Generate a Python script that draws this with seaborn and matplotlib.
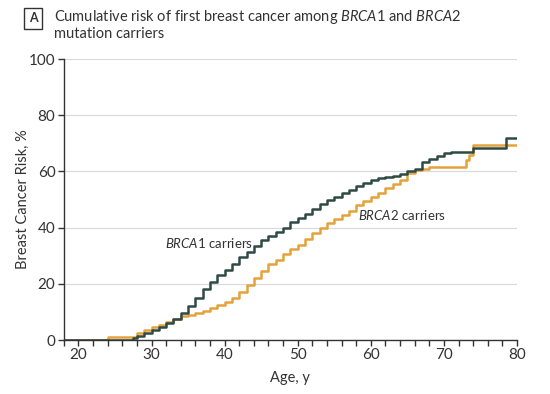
import pandas as pd
import matplotlib.pyplot as plt
import seaborn as sns
from matplotlib.ticker import MultipleLocator

# --- DATA ---
brca1_age = [18, 27, 27.5, 28, 29, 30, 31, 32, 33, 34, 35, 36, 37, 38, 39, 40,
             41, 42, 43, 44, 45, 46, 47, 48, 49, 50, 51, 52, 53, 54, 55, 56,
             57, 58, 59, 60, 61, 62, 63, 64, 65, 66, 67, 68, 69, 70, 71, 74,
             78.5, 80]
brca1_risk = [0, 0, 0.8, 1.5, 2.5, 3.5, 4.5, 6, 7.5, 9.5, 12, 15, 18, 20.5, 23, 25,
              27, 29.5, 31.5, 33.5, 35.5, 37, 38.5, 40, 42, 43.5, 45, 46.5, 48.5, 50, 51, 52.5,
              53.5, 55, 56, 57, 57.5, 58, 58.5, 59, 60, 61, 63.5, 64.5, 65.5, 66.5, 67, 68.5,
              72, 72]

brca2_age = [18, 24, 27, 28, 29, 30, 31, 32, 33, 34, 35, 36, 37, 38, 39, 40,
             41, 42, 43, 44, 45, 46, 47, 48, 49, 50, 51, 52, 53, 54, 55, 56,
             57, 58, 59, 60, 61, 62, 63, 64, 65, 66, 67, 68, 73, 73.5, 74, 80]
brca2_risk = [0, 1, 1, 2.5, 3.5, 4.5, 5.5, 6.5, 7.5, 8.5, 9, 9.5, 10.5, 11.5, 12.5, 13.5,
              15, 17, 19.5, 22, 24.5, 27, 28.5, 30.5, 32.5, 34, 36, 38, 40, 41.5, 43, 44.5,
              46, 48, 49.5, 51, 52.5, 54, 55.5, 57, 59.5, 60.5, 61, 61.5, 64, 66, 69.5, 69.5]

DARK = "#2e4a45"
ORANGE = "#e4a23a"
TXT = "#333333"

sns.set_style("white")
plt.rcParams["font.family"] = ["Lato", "DejaVu Sans"]
plt.rcParams["mathtext.fontset"] = "custom"
plt.rcParams["mathtext.it"] = "Lato:italic"
plt.rcParams["mathtext.rm"] = "Lato"

df1 = pd.DataFrame({"age": brca1_age, "risk": brca1_risk})
df2 = pd.DataFrame({"age": brca2_age, "risk": brca2_risk})

fig = plt.figure(figsize=(5.5, 3.94), dpi=100)
ax = fig.add_axes([0.116, 0.137, 0.824, 0.713])

ax.grid(axis="y", color="#d9d9d9", linewidth=0.8)
ax.set_axisbelow(True)

sns.lineplot(data=df2, x="age", y="risk", ax=ax, color=ORANGE, linewidth=1.8,
             drawstyle="steps-post", estimator=None, sort=False)
sns.lineplot(data=df1, x="age", y="risk", ax=ax, color=DARK, linewidth=1.8,
             drawstyle="steps-post", estimator=None, sort=False)

ax.set_xlim(18, 80)
ax.set_ylim(0, 100)
ax.xaxis.set_major_locator(MultipleLocator(10))
ax.xaxis.set_minor_locator(MultipleLocator(2))
ax.yaxis.set_major_locator(MultipleLocator(20))

for s in ["top", "right"]:
    ax.spines[s].set_visible(False)
for s in ["left", "bottom"]:
    ax.spines[s].set_color(TXT)
    ax.spines[s].set_linewidth(1.0)

ax.tick_params(axis="both", which="both", direction="out", length=4, width=1,
               color=TXT, labelcolor=TXT, labelsize=11, pad=2, bottom=True, left=True)
ax.tick_params(axis="x", which="minor", length=4)

ax.set_xlabel("Age, y", fontsize=10.5, color=TXT, labelpad=6)
ax.set_ylabel("Breast Cancer Risk, %", fontsize=10.5, color=TXT)
ax.yaxis.set_label_coords(-0.075, 0.5)

ax.text(31.8, 34.5, r"$\mathit{BRCA1}$ carriers", fontsize=9.5, color=TXT, va="center")
ax.text(58.3, 44.5, r"$\mathit{BRCA2}$ carriers", fontsize=9.5, color=TXT, va="center")

# panel label and title
fig.text(33 / 550, 1 - 18.5 / 394, "A", fontsize=9, fontweight="bold", color=TXT,
         ha="center", va="center",
         bbox=dict(boxstyle="square,pad=0.35", fc="white", ec=TXT, lw=1))
fig.text(54 / 550, 1 - 8 / 394,
         "Cumulative risk of first breast cancer among $\\mathit{BRCA1}$ and $\\mathit{BRCA2}$\nmutation carriers",
         fontsize=10.5, color=TXT, ha="left", va="top", linespacing=1.1)

plt.savefig("out.png", dpi=100)
